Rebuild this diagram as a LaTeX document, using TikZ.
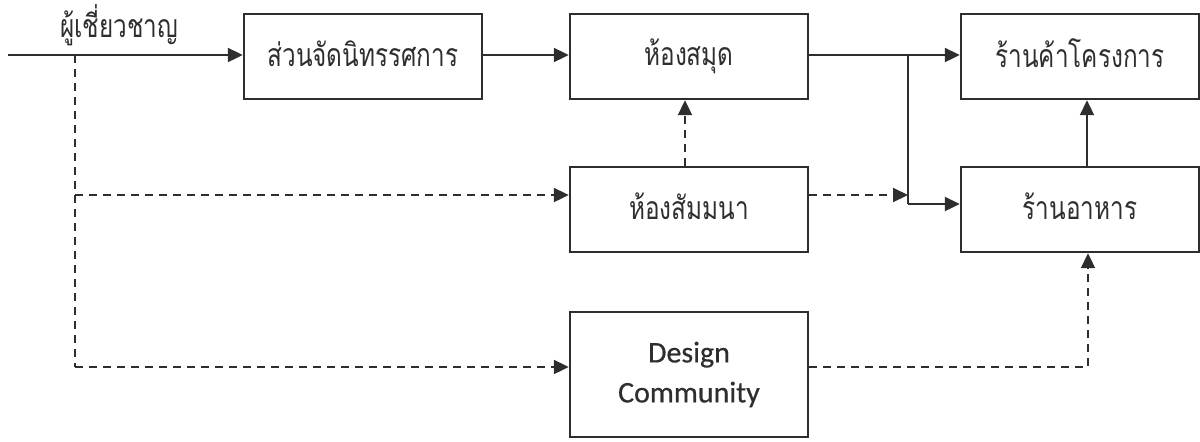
\documentclass[tikz,border=0pt]{standalone}
\usepackage{fontspec}
\setmainfont{Carlito}
\newfontfamily\dcfont[FakeBold=0.5]{Carlito}
\newfontfamily\thaifont[Script=Thai, FakeStretch=0.76]{Loma}
\usetikzlibrary{arrows.meta}
\definecolor{ink}{HTML}{2E2E2E}
\tikzset{
  box/.style={draw=ink, line width=1.2pt, minimum width=119pt, minimum height=42.5pt,
    inner sep=0pt, text=ink, align=center, font=\thaifont\fontsize{16}{19}\selectfont},
  flow/.style={draw=ink, line width=1.05pt, -{Triangle[length=7.5pt,width=7pt]}},
  line/.style={draw=ink, line width=1.05pt},
  dsh/.style={dash pattern=on 4pt off 3pt},
}
\begin{document}
\begin{tikzpicture}[x=0.5pt,y=-0.5pt]
\useasboundingbox (0,0) rectangle (1200,441);

% boxes
\node[box] (expo) at (363,56.5) {ส่วนจัดนิทรรศการ\vphantom{y}};
\node[box] (lib)  at (689,56.5) {ห้องสมุด\vphantom{y}};
\node[box] (shop) at (1080,56.5) {ร้านค้าโครงการ\vphantom{y}};
\node[box] (sem)  at (689,209.5) {ห้องสัมมนา\vphantom{y}};
\node[box] (food) at (1080,209.5) {ร้านอาหาร\vphantom{y}};
\node[box, minimum height=62.5pt, font=\dcfont\fontsize{15}{19}\selectfont] (dc) at (689,374.5) {Design\\[1pt]Community};

% input label
\node[text=ink, font=\thaifont\fontsize{16}{19}\selectfont, anchor=base west] (exp) at (53,37) {ผู้เชี่ยวชาญ};

% helper points
\coordinate (in) at (8,55);
\coordinate (e0) at (75,55);
\coordinate (e1) at (75,195);
\coordinate (e2) at (75,367);
\coordinate (j0) at (908,55);
\coordinate (j1) at (908,204);
\coordinate (j2) at (908,195);
\coordinate (d1) at (1088,367);

% solid flow
\draw[flow] (in) -- (in -| expo.west);
\draw[flow] (expo.east |- in) -- (lib.west |- in);
\draw[flow] (lib.east |- in) -- (shop.west |- in);
\draw[line] (j0) -- (j1);
\draw[flow] (j1) -- (j1 -| food.west);
\draw[flow] ([xshift=3.5pt]food.north) -- ([xshift=3.5pt]shop.south);

% dashed flow
\draw[line, dsh] (e0) -- (e2);
\draw[flow, dsh] (e1) -- (e1 -| sem.west);
\draw[flow, dsh] (e2) -- (e2 -| dc.west);
\draw[flow, dsh] ([xshift=-2pt]sem.north) -- ([xshift=-2pt]lib.south);
\draw[flow, dsh] (j2 -| sem.east) -- (j2);
\draw[flow, dsh] (d1 -| dc.east) -- (d1) -- (d1 |- food.south);
\end{tikzpicture}
\end{document}
